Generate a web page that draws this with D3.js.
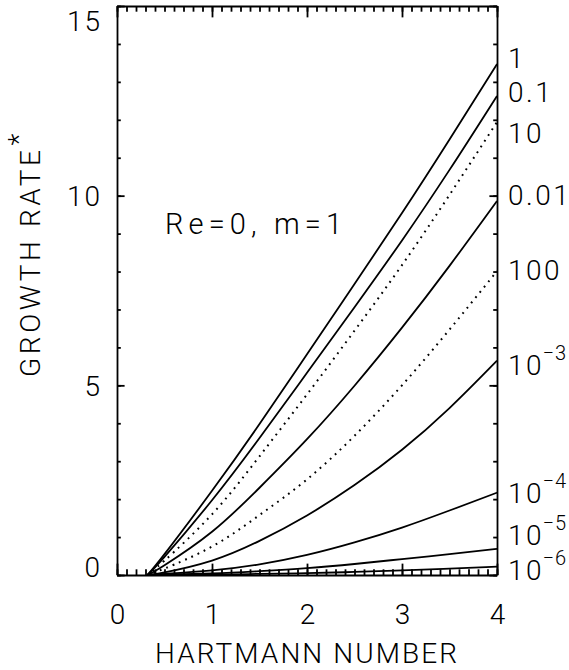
<!DOCTYPE html>
<html><head><meta charset="utf-8">
<script src="https://cdn.jsdelivr.net/npm/d3@7"></script>
<style>
body{margin:0;background:#fff}
text{font-family:Roboto,"Liberation Sans",sans-serif;font-weight:300;fill:#000}
</style>
</head><body>
<svg id="c" width="569" height="670"></svg>
<script>
// Hartmann number sample points
const hartmann = [0.32, 0.5, 1, 1.5, 2, 2.5, 3, 3.5, 4];
// growth rate* for each parameter value
const g1    = [0, 0.55, 2.22, 3.98, 5.82, 7.67, 9.54, 11.48, 13.47];
const g0p1  = [0, 0.48, 1.97, 3.61, 5.33, 7.06, 8.82, 10.68, 12.63];
const g10   = [0, 0.38, 1.60, 3.13, 4.76, 6.44, 8.17, 10.02, 11.94];
const g0p01 = [0, 0.26, 1.14, 2.30, 3.58, 4.99, 6.52, 8.15, 9.86];
const g100  = [0, 0.17, 0.75, 1.58, 2.52, 3.67, 5.00, 6.47, 8.01];
const g1em3 = [0, 0.07, 0.38, 0.90, 1.57, 2.37, 3.30, 4.40, 5.65];
const g1em4 = [0, 0.03, 0.12, 0.28, 0.53, 0.86, 1.25, 1.70, 2.17];
const g1em5 = [0, 0.01, 0.04, 0.10, 0.18, 0.29, 0.42, 0.55, 0.69];
const g1em6 = [0, 0.00, 0.01, 0.03, 0.05, 0.08, 0.12, 0.17, 0.22];

const seriesValues = [g1, g0p1, g10, g0p01, g100, g1em3, g1em4, g1em5, g1em6];
const seriesDotted = [false, false, true, false, true, false, false, false, false];
const labelBase = ["1", "0.1", "10", "0.01", "100", "10", "10", "10", "10"];
const labelExp  = ["", "", "", "", "", "\u22123", "\u22124", "\u22125", "\u22126"];
const labelLevel = [13.64, 12.75, 11.67, 10.03, 8.05, 5.55, 2.18, 1.07, 0.15];

const xMajor = [0, 1, 2, 3, 4];
const xTickLabels = ["0", "1", "2", "3", "4"];
const xMinor = d3.range(0, 41).map(i => i / 10);
const yMajor = [0, 5, 10, 15];
const yTickLabels = ["0", "5", "10", "15"];
const yMinor = d3.range(0, 16);

const svg = d3.select("#c");
const L = 117, R = 497, T = 6, B = 575;
const x = d3.scaleLinear().domain([0, 4]).range([L, R]);
const y = d3.scaleLinear().domain([0, 15]).range([B, T]);

const xLen = 0.02 * (B - T), yLen = 0.02 * (R - L);
const sw = 1.8;

function style(g) {
  g.selectAll("path,line").attr("stroke", "#000").attr("stroke-width", sw);
  g.selectAll("text").attr("font-size", 28).attr("font-family", null).attr("fill", "#000");
}

// bottom
svg.append("g").attr("transform", `translate(0,${B})`)
  .call(d3.axisBottom(x).tickValues(xMajor).tickFormat((d, i) => xTickLabels[i])
    .tickSizeInner(-xLen).tickSizeOuter(0).tickPadding(29)).call(style);
svg.append("g").attr("transform", `translate(0,${B})`)
  .call(d3.axisBottom(x).tickValues(xMinor).tickFormat("").tickSizeInner(-xLen / 2).tickSizeOuter(0))
  .call(style).call(g => g.select(".domain").remove());
// top
svg.append("g").attr("transform", `translate(0,${T})`)
  .call(d3.axisTop(x).tickValues(xMajor).tickFormat("").tickSizeInner(-xLen).tickSizeOuter(0)).call(style);
svg.append("g").attr("transform", `translate(0,${T})`)
  .call(d3.axisTop(x).tickValues(xMinor).tickFormat("").tickSizeInner(-xLen / 2).tickSizeOuter(0))
  .call(style).call(g => g.select(".domain").remove());
// left
const gl = svg.append("g").attr("transform", `translate(${L},0)`)
  .call(d3.axisLeft(y).tickValues(yMajor).tickFormat((d, i) => yTickLabels[i])
    .tickSizeInner(-yLen).tickSizeOuter(0).tickPadding(17)).call(style);
gl.selectAll(".tick text").attr("dy", null).attr("letter-spacing", 2).attr("dx", 2).attr("y", d => {
  const py = y(d);
  return Math.min(Math.max(py, T + 14), B - 9) - py + 10;
});
svg.append("g").attr("transform", `translate(${L},0)`)
  .call(d3.axisLeft(y).tickValues(yMinor).tickFormat("").tickSizeInner(-yLen / 2).tickSizeOuter(0))
  .call(style).call(g => g.select(".domain").remove());
// right
svg.append("g").attr("transform", `translate(${R},0)`)
  .call(d3.axisRight(y).tickValues(yMajor).tickFormat("").tickSizeInner(-yLen).tickSizeOuter(0)).call(style);
svg.append("g").attr("transform", `translate(${R},0)`)
  .call(d3.axisRight(y).tickValues(yMinor).tickFormat("").tickSizeInner(-yLen / 2).tickSizeOuter(0))
  .call(style).call(g => g.select(".domain").remove());

// curves
const line = d3.line().x(d => x(d[0])).y(d => y(d[1])).curve(d3.curveNatural);
seriesValues.forEach((vals, i) => {
  svg.append("path")
    .attr("d", line(hartmann.map((h, j) => [h, vals[j]])))
    .attr("fill", "none").attr("stroke", "#000")
    .attr("stroke-width", seriesDotted[i] ? 2 : 1.8)
    .attr("stroke-dasharray", seriesDotted[i] ? "1.8,5" : null);
});

// right labels
labelBase.forEach((b, i) => {
  const t = svg.append("text").attr("x", R + 11).attr("y", y(labelLevel[i]) + 10.5)
    .attr("font-size", 28);
  t.append("tspan").attr("letter-spacing", 2.5).text(b.slice(0, -1));
  t.append("tspan").text(b.slice(-1));
  if (labelExp[i]) t.append("tspan").attr("dy", -15).attr("dx", 1).attr("letter-spacing", 1)
    .attr("font-size", 20).text(labelExp[i]);
});

// annotation
svg.append("text").attr("x", 165).attr("y", 234).attr("font-size", 29)
  .attr("textLength", 177).attr("lengthAdjust", "spacing").text("Re=0,  m=1");

// axis titles
svg.append("text").attr("x", 155).attr("y", 663)
  .attr("font-size", 28).attr("textLength", 302).attr("lengthAdjust", "spacing").text("HARTMANN NUMBER");
const yt = svg.append("text").attr("transform", "translate(40,377) rotate(-90)")
  .attr("font-size", 28);
yt.append("tspan").attr("textLength", 227).attr("lengthAdjust", "spacing").text("GROWTH RATE");
yt.append("tspan").attr("dy", -12).attr("dx", 1).attr("font-size", 28).text("*");
</script>
</body></html>
